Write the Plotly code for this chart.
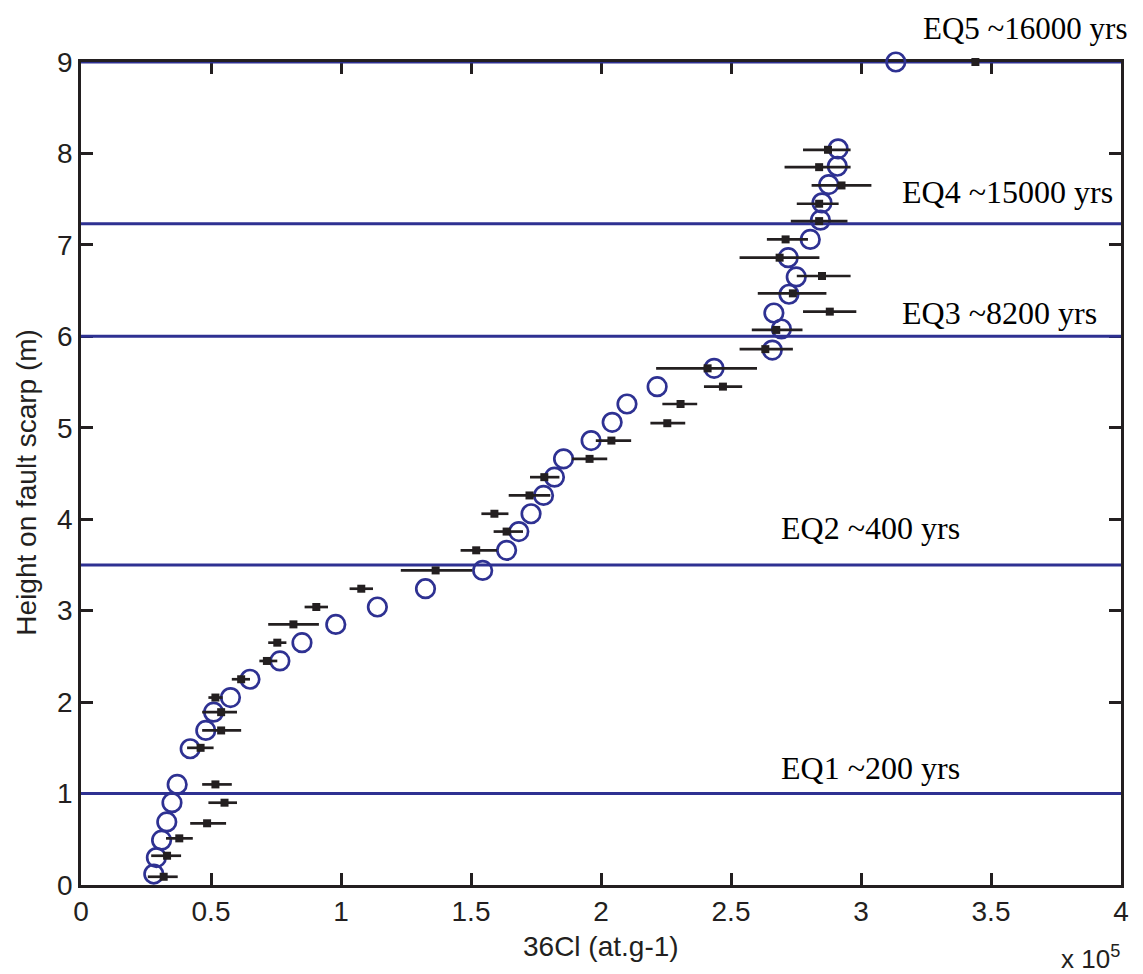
import plotly.graph_objects as go

SCALE = 1e5

# Observed 36Cl concentrations (at/g) with horizontal uncertainty bounds
obs_cl = [31800, 33100, 37800, 48500, 55200, 51700, 46000, 53900, 53900, 51700,
          61600, 71500, 75500, 81700, 90500, 107800, 136400, 152000, 163700, 159000,
          172500, 178200, 195600, 204000, 225500, 230600, 246900, 241000, 263200, 267400,
          288000, 273800, 285000, 268700, 271000, 283900, 283900, 292500, 283900, 287300,
          344000]
obs_lo = [25700, 27000, 32700, 42000, 49000, 46600, 40800, 46600, 46600, 49000,
          58000, 68600, 72000, 72000, 86000, 103300, 123000, 146000, 158700, 154000,
          164500, 172700, 188800, 198000, 219000, 223600, 239600, 221200, 253300, 258000,
          277700, 260300, 275300, 253300, 263800, 273000, 275300, 281000, 270600, 277700,
          344000]
obs_hi = [37200, 38500, 43000, 55800, 60000, 58000, 51000, 61600, 60000, 54500,
          65000, 75500, 79000, 91500, 95000, 112300, 150500, 160000, 170000, 164400,
          180500, 184000, 202400, 211600, 232400, 237000, 254300, 260000, 273800, 277500,
          298200, 286700, 296000, 284000, 279600, 294800, 291400, 304000, 296000, 296000,
          344000]
obs_h = [0.09, 0.32, 0.51, 0.675, 0.90, 1.10, 1.50, 1.69, 1.89, 2.05,
         2.25, 2.45, 2.65, 2.85, 3.04, 3.24, 3.44, 3.66, 3.865, 4.06,
         4.26, 4.46, 4.66, 4.86, 5.05, 5.26, 5.45, 5.65, 5.86, 6.07,
         6.27, 6.47, 6.66, 6.86, 7.06, 7.26, 7.45, 7.65, 7.85, 8.04,
         9.0]

# Modelled 36Cl concentrations (at/g)
mod_cl = [28000, 29000, 31000, 33000, 35000, 37000, 42000, 48000, 51000, 57500,
          65000, 76500, 85000, 98000, 114000, 132500, 154500, 163700, 168400, 173100,
          177900, 182100, 185600, 196200, 204300, 210000, 221600, 243500, 265900, 269400,
          266500, 272300, 275100, 272000, 280500, 284400, 285000, 287600, 290900, 291200,
          313400]
mod_h = [0.12, 0.30, 0.49, 0.69, 0.90, 1.10, 1.49, 1.69, 1.89, 2.05,
         2.25, 2.45, 2.65, 2.85, 3.04, 3.24, 3.44, 3.66, 3.865, 4.06,
         4.26, 4.46, 4.66, 4.86, 5.06, 5.26, 5.45, 5.65, 5.85, 6.08,
         6.255, 6.46, 6.65, 6.86, 7.06, 7.27, 7.46, 7.66, 7.86, 8.05,
         9.0]

# Earthquake events: heights of rupture limits and labels
eq_heights = [1.0, 3.5, 6.0, 7.23, 9.0]
eq_labels = ["EQ1 ~200 yrs", "EQ2 ~400 yrs", "EQ3 ~8200 yrs", "EQ4 ~15000 yrs", "EQ5 ~16000 yrs"]
eq_label_x = [269000, 269000, 315500, 315500, 323500]
eq_label_y = [1.28, 3.90, 6.26, 7.58, 9.37]
eq_label_size = [32, 32, 32, 32, 31]

x_ticks = [0, 0.5, 1, 1.5, 2, 2.5, 3, 3.5, 4]
y_ticks = [0, 1, 2, 3, 4, 5, 6, 7, 8, 9]
Y_MAX = 9.0

BLUE = "#2e3192"
BLACK = "#231f20"

fig = go.Figure()

for h in eq_heights:
    fig.add_trace(go.Scatter(x=[0, 4], y=[h, h], mode="lines",
                             line=dict(color=BLUE, width=3), hoverinfo="skip",
                             showlegend=False, cliponaxis=False))

fig.add_trace(go.Scatter(
    x=[v / SCALE for v in mod_cl], y=mod_h, mode="markers",
    marker=dict(symbol="circle-open", size=18.5, color=BLUE, line=dict(width=2.7, color=BLUE)),
    showlegend=False, cliponaxis=False))

fig.add_trace(go.Scatter(
    x=[v / SCALE for v in obs_cl], y=obs_h, mode="markers",
    marker=dict(symbol="square", size=8, color=BLACK),
    error_x=dict(type="data", symmetric=False,
                 array=[(hi - c) / SCALE for hi, c in zip(obs_hi, obs_cl)],
                 arrayminus=[(c - lo) / SCALE for lo, c in zip(obs_lo, obs_cl)],
                 color=BLACK, thickness=2.7, width=0),
    showlegend=False, cliponaxis=False))

annotations = []
for lx, ly, t, fs in zip(eq_label_x, eq_label_y, eq_labels, eq_label_size):
    annotations.append(dict(x=lx / SCALE, y=ly / Y_MAX, xref="x", yref="paper", text=t,
                            showarrow=False, xanchor="left", yanchor="middle", borderpad=0,
                            font=dict(family="Liberation Serif", size=fs, color="black")))

annotations.append(dict(x=0.5, y=-0.075, xref="paper", yref="paper", text="36Cl (at.g-1)",
                        showarrow=False, xanchor="center", yanchor="middle",
                        font=dict(family="Liberation Sans", size=28, color=BLACK)))
annotations.append(dict(x=-0.052, y=0.49, xref="paper", yref="paper",
                        text="Height on fault scarp (m)", textangle=-90, showarrow=False,
                        xanchor="center", yanchor="middle",
                        font=dict(family="Liberation Sans", size=28, color=BLACK)))
annotations.append(dict(x=1.001, y=-0.088, xref="paper", yref="paper",
                        text="x 10<sup>5</sup>", showarrow=False, xanchor="right", yanchor="middle",
                        font=dict(family="Liberation Sans", size=26, color=BLACK)))

axis_common = dict(showline=True, linecolor=BLACK, linewidth=2.6, mirror="allticks",
                   ticks="inside", ticklen=12, tickwidth=2.6, tickcolor=BLACK,
                   showgrid=False, zeroline=False, layer="below traces",
                   tickfont=dict(family="Liberation Sans", size=28, color=BLACK))

fig.update_layout(
    width=1135, height=966,
    margin=dict(l=73, r=22, t=54, b=89),
    paper_bgcolor="white", plot_bgcolor="white",
    xaxis=dict(range=[0, 4], tickvals=x_ticks, **axis_common),
    yaxis=dict(range=[0, Y_MAX], tickvals=y_ticks, **axis_common),
    annotations=annotations,
)

fig.write_html("out.html", config={"displayModeBar": False})
